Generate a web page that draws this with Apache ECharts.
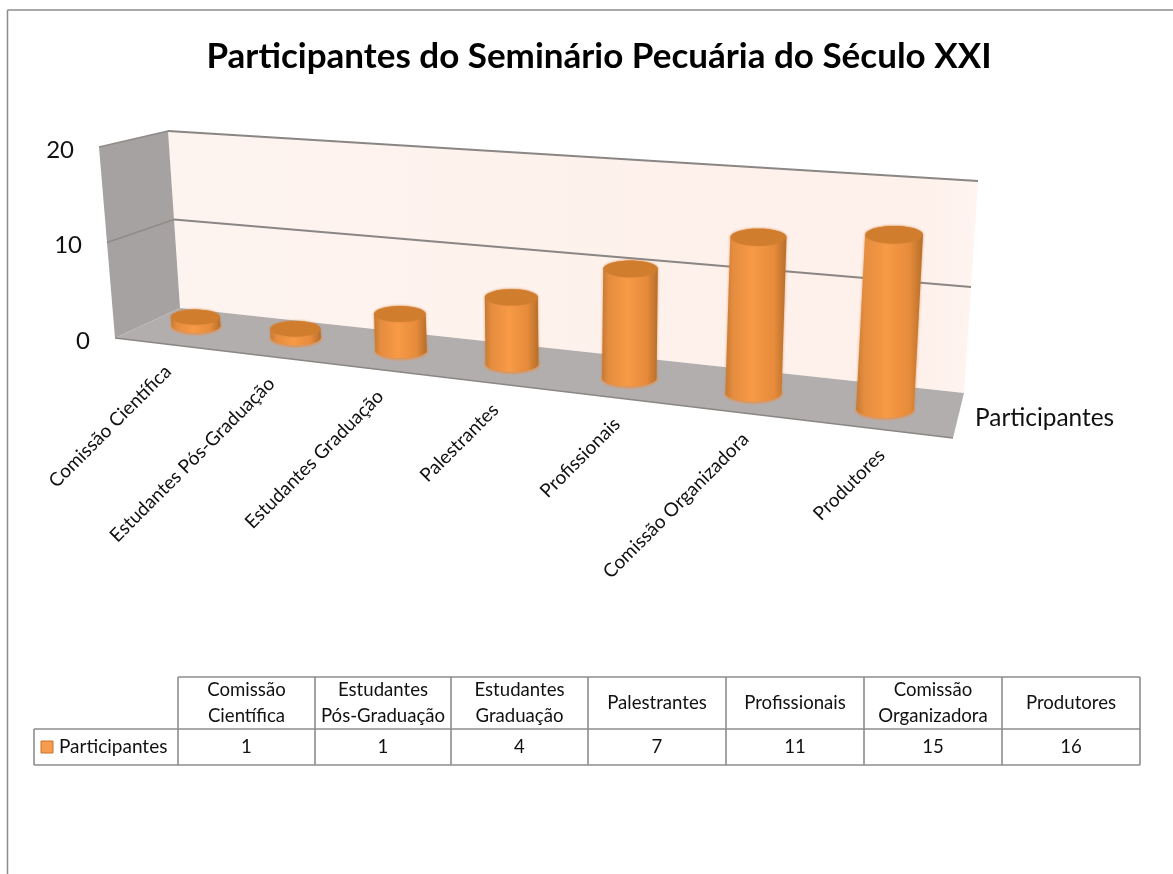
<!DOCTYPE html>
<html>
<head>
<meta charset="utf-8">
<title>Participantes do Seminário Pecuária do Século XXI</title>
<script src="https://cdn.jsdelivr.net/npm/echarts@6/dist/echarts.min.js"></script>
<style>
    html,body{margin:0;padding:0;background:#fff;}
</style>
</head>
<body>
<div id="chart_con" style="width:1173px;height:874px;"></div>
<script>
const titulo = 'Participantes do Seminário Pecuária do Século XXI';
const serieNome = 'Participantes';
const categorias = ['Comissão Científica','Estudantes Pós-Graduação','Estudantes Graduação','Palestrantes','Profissionais','Comissão Organizadora','Produtores'];
const cabecalhos = ['Comissão\nCientífica','Estudantes\nPós-Graduação','Estudantes\nGraduação','Palestrantes','Profissionais','Comissão\nOrganizadora','Produtores'];
const participantes = [1,1,4,7,11,15,16];
const yTicks = [0,10,20];

const FONT = 'Lato, Carlito, sans-serif';
const GRID = {left:100,top:233,width:840,height:167};

// flat grid px -> picture px (perspective of the 3d box)
function warp(px,py){
    let t = (px-GRID.left)/(GRID.width/categorias.length)-0.5;
    let h = GRID.top+GRID.height-py;
    let w = 1/(1-0.02547*t);
    let x = (92.3*t+196)*w;
    let y = 325.5+0.1212*(x-196);
    return {x:x+(x-567)*0.00177*h/8.35, y:y-h*Math.pow(w,1.6), baseX:x, baseY:y, w:w};
}

function elipse(cx,cy,rx,ry,from,to){
    let pts = [];
    for(let i=0;i<=32;i++){
        let a = from+(to-from)*i/32;
        pts.push([cx+rx*Math.cos(a),cy+ry*Math.sin(a)]);
    }
    return pts;
}

function renderCilindro(params,api){
    let base = api.coord([api.value(0),0]);
    let topo = api.coord([api.value(0),api.value(1)]);
    let b = warp(base[0],base[1]);
    let c = warp(topo[0],topo[1]);
    let rx = 24.5*b.w, ry = 7*b.w+0.6;
    let corpo = elipse(b.x,b.y,rx,ry,0,Math.PI).concat(elipse(c.x,c.y,rx,ry,Math.PI,2*Math.PI));
    let grad = new echarts.graphic.LinearGradient(0,0,1,0,[
        {offset:0,color:'#c47a35'},
        {offset:0.12,color:'#e58c3e'},
        {offset:0.45,color:'#f89a46'},
        {offset:0.8,color:'#e68b3b'},
        {offset:1,color:'#b56e2a'}
    ]);
    return {
        type:'group',
        children:[
            {type:'polygon',shape:{points:elipse(b.x,b.y+1,rx+1.5,ry+1.5,0,2*Math.PI)},style:{fill:'rgba(240,150,80,0.5)'}},
            {type:'polygon',shape:{points:corpo},style:{fill:grad,shadowBlur:3,shadowColor:'rgba(205,125,55,0.7)'}},
            {type:'polygon',shape:{points:elipse(c.x,c.y,rx-0.5,ry,0,2*Math.PI)},style:{fill:'#d07e2e',shadowBlur:2,shadowColor:'rgba(205,125,55,0.7)'}},
            {
                type:'text',
                x:b.baseX-28+(b.baseX-196)*0.036,
                y:b.baseY+43,
                rotation:Math.PI/4,
                style:{text:categorias[params.dataIndex],align:'right',verticalAlign:'middle',font:'19px '+FONT,fill:'#111'}
            }
        ]
    };
}

function renderParedes(params,api){
    let frente = [[115,338],[99,147]], fundoE = [[180,308],[168,131]], fundoD = [[964,393],[978,181]];
    let chaoF = [953,438];
    let y0 = api.coord([0,0])[1], yMax = api.coord([0,yTicks[yTicks.length-1]])[1];
    let lerp = (seg,r) => [seg[0][0]+(seg[1][0]-seg[0][0])*r, seg[0][1]+(seg[1][1]-seg[0][1])*r];
    let fundo = new echarts.graphic.LinearGradient(0,0,1,0,[
        {offset:0,color:'#fef4ef'},
        {offset:0.9,color:'#fef0ea'},
        {offset:1,color:'#fff4f0'}
    ]);
    let kids = [
        {type:'polygon',shape:{points:[fundoE[0],fundoE[1],fundoD[1],fundoD[0]]},style:{fill:fundo}},
        {type:'polygon',shape:{points:[frente[0],frente[1],fundoE[1],fundoE[0]]},style:{fill:'#a6a2a1'}},
        {type:'polygon',shape:{points:[frente[0],fundoE[0],fundoD[0],chaoF]},style:{fill:'#b2aeae'}},
        {type:'polyline',shape:{points:[frente[0],chaoF]},style:{stroke:'#8a8684',lineWidth:1.5,fill:'none'}}
    ];
    yTicks.forEach(v => {
        let r = (y0-api.coord([0,v])[1])/(y0-yMax);
        let a = lerp(frente,r), m = lerp(fundoE,r), n = lerp(fundoD,r);
        if(v>0){
            kids.push({type:'polyline',shape:{points:[a,m]},style:{stroke:'#8f8b89',lineWidth:1.5,fill:'none'}});
            kids.push({type:'polyline',shape:{points:[m,n]},style:{stroke:'#8a8684',lineWidth:2,fill:'none'}});
        }
        kids.push({type:'text',x:a[0]-25,y:a[1]+3,style:{text:String(v),align:'right',verticalAlign:'middle',font:'24px '+FONT,fill:'#111'}});
    });
    return {type:'group',children:kids};
}

// data table under the plot
function tabela(){
    let xs = [178,315,451,588,726,864,1002,1140];
    let y1 = 677, y2 = 729, y3 = 765, x0 = 34;
    let line = '#8c8c8c';
    let out = [];
    let seg = (a,b,c,d) => out.push({type:'line',shape:{x1:a,y1:b,x2:c,y2:d},style:{stroke:line,lineWidth:1.6}});
    seg(xs[0],y1,xs[7],y1);
    seg(x0,y2,xs[7],y2);
    seg(x0,y3,xs[7],y3);
    seg(x0,y2,x0,y3);
    xs.forEach(x => seg(x,y1,x,y3));
    cabecalhos.forEach((txt,i) => {
        let mid = (xs[i]+xs[i+1])/2;
        out.push({type:'text',x:mid,y:(y1+y2)/2,style:{text:txt,align:'center',verticalAlign:'middle',lineHeight:26,font:'18.6px '+FONT,fill:'#111'}});
        out.push({type:'text',x:mid,y:(y2+y3)/2,style:{text:String(participantes[i]),align:'center',verticalAlign:'middle',font:'18.6px '+FONT,fill:'#111'}});
    });
    out.push({type:'rect',shape:{x:41,y:741,width:12,height:12},style:{fill:'#f79b4c',stroke:'#c6752d',lineWidth:1}});
    out.push({type:'text',x:59,y:747,style:{text:serieNome,align:'left',verticalAlign:'middle',font:'19px '+FONT,fill:'#111'}});
    return out;
}

var chart = echarts.init(document.getElementById('chart_con'));
chart.setOption({
    animation:false,
    backgroundColor:'#fff',
    grid:GRID,
    xAxis:{type:'category',data:categorias,show:false},
    yAxis:{type:'value',min:0,max:20,interval:10,show:false},
    graphic:{elements:[
        {type:'line',shape:{x1:7.5,y1:10,x2:1173,y2:10},style:{stroke:'#8c8c8c',lineWidth:1.5}},
        {type:'line',shape:{x1:7.5,y1:10,x2:7.5,y2:874},style:{stroke:'#8c8c8c',lineWidth:1.5}},
        {type:'text',x:599,y:57,style:{text:titulo,align:'center',verticalAlign:'middle',font:'bold 35px '+FONT,fill:'#000'}},
        {type:'text',x:975,y:418,style:{text:serieNome,align:'left',verticalAlign:'middle',font:'24.4px '+FONT,fill:'#111'}}
    ].concat(tabela())},
    series:[
        {type:'custom',name:'paredes',z:1,silent:true,renderItem:renderParedes,data:[[0,0]]},
        {
            type:'custom',
            name:serieNome,
            z:2,
            renderItem:renderCilindro,
            encode:{x:0,y:1},
            data:participantes.map((v,i) => [i,v])
        }
    ]
});
window.addEventListener('resize',function(){
    chart.resize();
});
</script>
</body>
</html>
